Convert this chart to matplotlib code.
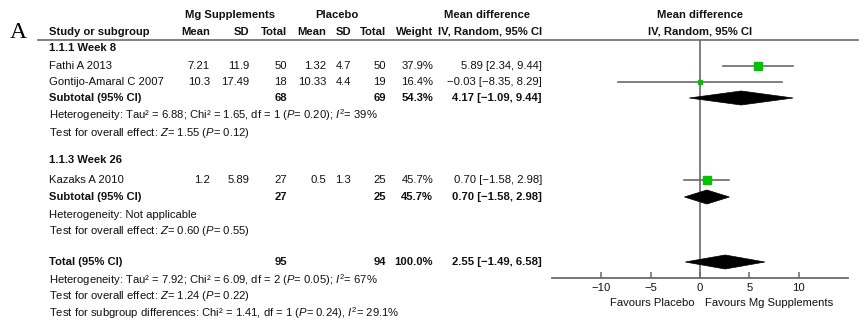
import matplotlib
matplotlib.use("Agg")
import matplotlib.pyplot as plt
from matplotlib.patches import Polygon

plt.rcParams['font.family'] = ['Liberation Sans', 'DejaVu Sans']
plt.rcParams['mathtext.fontset'] = 'custom'
plt.rcParams['mathtext.rm'] = 'Liberation Sans'
plt.rcParams['mathtext.it'] = 'Liberation Sans:italic'
plt.rcParams['mathtext.bf'] = 'Liberation Sans:bold'

# ---- study data ----
studies = ["Fathi A 2013", "Gontijo-Amaral C 2007", "Kazaks A 2010"]
mg_mean = [7.21, 10.3, 1.2]
mg_sd = [11.9, 17.49, 5.89]
mg_n = [50, 18, 27]
pl_mean = [1.32, 10.33, 0.5]
pl_sd = [4.7, 4.4, 1.3]
pl_n = [50, 19, 25]
weight = [37.9, 16.4, 45.7]
md = [5.89, -0.03, 0.70]
md_lo = [2.34, -8.35, -1.58]
md_hi = [9.44, 8.29, 2.98]

# ---- pooled estimates: week 8, week 26, overall ----
pooled_labels = ["Subtotal (95% CI)", "Subtotal (95% CI)", "Total (95% CI)"]
pooled_mg_n = [68, 27, 95]
pooled_pl_n = [69, 25, 94]
pooled_weight = [54.3, 45.7, 100.0]
pooled_md = [4.17, 0.70, 2.55]
pooled_lo = [-1.09, -1.58, -1.49]
pooled_hi = [9.44, 2.98, 6.58]

subgroups = ["1.1.1 Week 8", "1.1.3 Week 26"]
ticks = [-10, -5, 0, 5, 10]

W, H = 864, 336
fig = plt.figure(figsize=(W / 100, H / 100), dpi=100)
tx = fig.add_axes([0, 0, 1, 1])
tx.set_xlim(0, W)
tx.set_ylim(H, 0)
tx.axis('off')

FS = 8.15
GREEN = '#00c400'
GRAY = '#6a6a6a'


def fmt_num(v):
    return f"{v:g}"


def fmt_md(m, lo, hi):
    s = f"{m:.2f} [{lo:.2f}, {hi:.2f}]"
    return s.replace('-', '\u2212')


def put(x, y, s, ha='left', bold=False, size=FS, **kw):
    tx.text(x, y, s, ha=ha, va='center', fontsize=size,
            fontweight='bold' if bold else 'normal', color='#111111', **kw)


# column anchors (pixels)
X_NAME = 49
X_MGM, X_MGSD, X_MGN = 210, 249, 287
X_PLM, X_PLSD, X_PLN = 326, 351, 386
X_W = 433
X_MD = 542

# panel letter
tx.text(10, 32, "A", fontsize=17, family='Liberation Serif', va='center', ha='left')

# headers
put(230, 15, "Mg Supplements", ha='center', bold=True)
put(337, 15, "Placebo", ha='center', bold=True)
put(487, 15, "Mean difference", ha='center', bold=True)
put(700, 15, "Mean difference", ha='center', bold=True)
y_h = 32
put(X_NAME, y_h, "Study or subgroup", bold=True)
put(X_MGM, y_h, "Mean", ha='right', bold=True)
put(X_MGSD, y_h, "SD", ha='right', bold=True)
put(X_MGN, y_h, "Total", ha='right', bold=True)
put(X_PLM, y_h, "Mean", ha='right', bold=True)
put(X_PLSD, y_h, "SD", ha='right', bold=True)
put(X_PLN, y_h, "Total", ha='right', bold=True)
put(X_W, y_h, "Weight", ha='right', bold=True)
put(X_MD, y_h, "IV, Random, 95% CI", ha='right', bold=True)
put(700, y_h, "IV, Random, 95% CI", ha='center', bold=True)
tx.plot([38, 858], [39.5, 39.5], color=GRAY, lw=1.2)

# row layout
group_y = [48, 160]
study_y = [66, 82, 180]
pooled_y = [98, 197, 262]

notes = [
    (115, r"Heterogeneity: Tau² = 6.88; Chi² = 1.65, df = 1 ($P$= 0.20); $I^2$= 39%"),
    (133, r"Test for overall effect: $Z$= 1.55 ($P$= 0.12)"),
    (215, "Heterogeneity: Not applicable"),
    (231, r"Test for overall effect: $Z$= 0.60 ($P$= 0.55)"),
    (280, r"Heterogeneity: Tau² = 7.92; Chi² = 6.09, df = 2 ($P$= 0.05); $I^2$= 67%"),
    (296, r"Test for overall effect: $Z$= 1.24 ($P$= 0.22)"),
    (313, r"Test for subgroup differences: Chi² = 1.41, df = 1 ($P$= 0.24), $I^2$= 29.1%"),
]

for gy, g in zip(group_y, subgroups):
    put(X_NAME, gy, g, bold=True)

for i, name in enumerate(studies):
    y = study_y[i]
    put(X_NAME, y, name)
    put(X_MGM, y, fmt_num(mg_mean[i]), ha='right')
    put(X_MGSD, y, fmt_num(mg_sd[i]), ha='right')
    put(X_MGN, y, str(mg_n[i]), ha='right')
    put(X_PLM, y, fmt_num(pl_mean[i]), ha='right')
    put(X_PLSD, y, fmt_num(pl_sd[i]), ha='right')
    put(X_PLN, y, str(pl_n[i]), ha='right')
    put(X_W, y, f"{weight[i]:.1f}%", ha='right')
    put(X_MD, y, fmt_md(md[i], md_lo[i], md_hi[i]), ha='right')

for j, lab in enumerate(pooled_labels):
    y = pooled_y[j]
    put(X_NAME, y, lab, bold=True)
    put(X_MGN, y, str(pooled_mg_n[j]), ha='right', bold=True)
    put(X_PLN, y, str(pooled_pl_n[j]), ha='right', bold=True)
    put(X_W, y, f"{pooled_weight[j]:.1f}%", ha='right', bold=True)
    put(X_MD, y, fmt_md(pooled_md[j], pooled_lo[j], pooled_hi[j]), ha='right', bold=True)

for y, s in notes:
    put(X_NAME, y, s)

# ---- forest panel ----
AX_TOP, AX_BOT = 39.5, 278
ax = fig.add_axes([552 / W, (H - AX_BOT) / H, 296 / W, (AX_BOT - AX_TOP) / H])
ax.patch.set_alpha(0)
ax.set_xlim(-15, 15)
ax.set_ylim(AX_BOT, AX_TOP)
for side in ('top', 'left', 'right'):
    ax.spines[side].set_visible(False)
ax.spines['bottom'].set_color(GRAY)
ax.spines['bottom'].set_linewidth(1.3)
ax.set_yticks([])
ax.set_xticks(ticks)
ax.set_xticklabels([f"{t}".replace('-', '\u2212') for t in ticks])
ax.tick_params(axis='x', direction='in', length=4, width=1.1, color=GRAY,
               labelsize=FS, pad=3.5, labelcolor='#111111')
ax.axvline(0, color=GRAY, lw=1.2, zorder=1)

for i in range(len(studies)):
    y = study_y[i]
    ax.plot([md_lo[i], md_hi[i]], [y, y], color=GRAY, lw=1.2, zorder=2)
    side = 1.0 + weight[i] * 0.11
    ax.plot(md[i], y, marker='s', ms=side, color=GREEN, mec=GREEN, zorder=3)

for j in range(len(pooled_md)):
    y = pooled_y[j]
    dh = 7
    poly = Polygon([[pooled_lo[j], y], [pooled_md[j], y - dh],
                    [pooled_hi[j], y], [pooled_md[j], y + dh]],
                   closed=True, facecolor='black', edgecolor='black', lw=0.5, zorder=3)
    ax.add_patch(poly)

tx.text(695, 303, "Favours Placebo", ha='right', va='center', fontsize=FS, color='#111111')
tx.text(705, 303, "Favours Mg Supplements", ha='left', va='center', fontsize=FS, color='#111111')

fig.savefig("out.png", dpi=100)
